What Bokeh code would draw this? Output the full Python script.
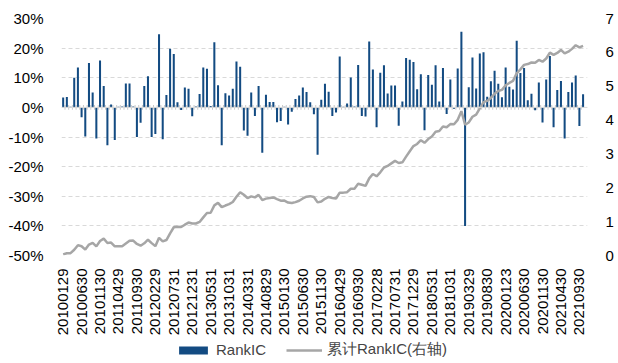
import numpy as np
from bokeh.plotting import figure
from bokeh.layouts import column
from bokeh.models import (Range1d, LinearAxis, FixedTicker, Legend, LegendItem,
                          ColumnDataSource, Span)
from bokeh.embed import file_html
from bokeh.resources import INLINE

# ---------------- data ----------------
tick_labels = ["20100129", "20100630", "20101130", "20110429", "20110930", "20120229",
               "20120731", "20121231", "20130531", "20131031", "20140331", "20140829",
               "20150130", "20150630", "20151130", "20160429", "20160930", "20170228",
               "20170731", "20171229", "20180531", "20181031", "20190329", "20190830",
               "20200123", "20200630", "20201130", "20210430", "20210930"]

# monthly RankIC, in percent
rank_ic = [3.3, 3.5, 0.2, 10.0, 13.5, -3.3, -9.8, 15.0, 5.0, -10.5,
           15.8, 7.2, -12.8, 1.0, -11.0, 0.2, 0.3, 8.1, 8.1, 0.3,
           -10.0, -5.2, 7.2, 10.5, -10.0, -9.0, 24.7, -10.8, 4.2, 19.8,
           18.0, 1.7, -0.9, 6.7, 6.3, -3.0, 0.3, 4.5, 13.5, 13.0,
           0.5, 22.0, 7.5, -12.8, 4.8, 4.0, 6.3, 15.5, 13.7, -7.8,
           -9.6, 5.0, -2.9, 7.2, -15.3, 4.3, 1.8, 1.8, -5.0, -4.6,
           0.2, -5.8, -1.5, 2.8, 4.0, 6.7, 5.2, 1.7, -2.3, -16.0,
           2.6, 8.0, 5.3, -2.9, -1.7, 17.2, 0.2, 1.3, 10.1, 0.3,
           14.3, -2.9, -3.1, 22.2, 12.8, -6.7, 11.7, 14.2, 4.7, 7.4,
           7.4, -6.2, 2.0, 16.7, 16.1, 15.3, 6.1, 11.2, -7.7, 10.9,
           7.6, 14.2, 2.0, 13.3, -2.2, 9.4, -0.5, 13.1, 25.5, -40.0,
           6.8, 16.8, 6.4, 18.2, 18.6, 3.6, 8.8, 12.4, 8.0, 3.4,
           13.5, 7.0, 6.0, 22.5, 11.6, 13.3, 2.4, 4.6, -1.0, 8.4,
           -5.1, 9.4, 17.3, -6.7, 5.9, 8.9, -10.5, 5.2, 8.4, 10.8,
           -6.3, 4.4]

# cumulative RankIC (right axis)
cum_rank_ic = [0.033, 0.068, 0.070, 0.170, 0.305, 0.272, 0.174, 0.324, 0.374, 0.269,
               0.427, 0.499, 0.371, 0.381, 0.271, 0.273, 0.276, 0.357, 0.438, 0.441,
               0.341, 0.289, 0.361, 0.466, 0.366, 0.276, 0.523, 0.415, 0.457, 0.655,
               0.835, 0.852, 0.843, 0.910, 0.973, 0.943, 0.946, 0.991, 1.126, 1.256,
               1.261, 1.481, 1.556, 1.428, 1.476, 1.516, 1.579, 1.734, 1.871, 1.793,
               1.697, 1.747, 1.718, 1.790, 1.637, 1.680, 1.698, 1.716, 1.666, 1.620,
               1.622, 1.564, 1.549, 1.577, 1.617, 1.684, 1.736, 1.753, 1.730, 1.570,
               1.596, 1.676, 1.729, 1.700, 1.683, 1.855, 1.857, 1.870, 1.971, 1.974,
               2.117, 2.088, 2.057, 2.279, 2.407, 2.340, 2.457, 2.599, 2.646, 2.720,
               2.794, 2.732, 2.752, 2.919, 3.080, 3.233, 3.294, 3.406, 3.329, 3.438,
               3.514, 3.656, 3.676, 3.809, 3.787, 3.881, 3.876, 4.007, 4.262, 3.862,
               3.930, 4.098, 4.162, 4.344, 4.530, 4.566, 4.654, 4.778, 4.858, 4.892,
               5.027, 5.097, 5.157, 5.382, 5.498, 5.631, 5.655, 5.701, 5.691, 5.775,
               5.724, 5.818, 5.991, 5.924, 5.983, 6.072, 5.967, 6.019, 6.103, 6.211,
               6.148, 6.192]

left_ticks = [-50, -40, -30, -20, -10, 0, 10, 20, 30]
right_ticks = [0, 1, 2, 3, 4, 5, 6, 7]
legend_labels = ["RankIC", "累计RankIC(右轴)"]

# ---------------- styling ----------------
BLUE = "#134B82"
GREY = "#A6A6A6"
FONT = "Liberation Sans"
FS = "15px"

n = len(rank_ic)
idx = list(range(n))
src = ColumnDataSource(dict(x=idx, v=rank_ic, c=cum_rank_ic))

p = figure(frame_width=526, frame_height=237,
           x_range=Range1d(-0.45, 142.2), y_range=Range1d(-50, 30),
           output_backend="svg", toolbar_location=None,
           min_border_left=61, min_border_right=20, min_border_top=18,
           min_border_bottom=85)
p.outline_line_color = None
p.background_fill_color = "white"
p.border_fill_color = "white"

p.extra_y_ranges = {"cum": Range1d(0, 7)}

# gridlines
p.xgrid.visible = False
p.ygrid.ticker = FixedTicker(ticks=left_ticks)
p.ygrid.grid_line_color = "#D9D9D9"
p.ygrid.grid_line_dash = "4 3"
p.ygrid.grid_line_width = 1

# zero line with category tick marks
p.add_layout(Span(location=0, dimension="width", line_color="#D9D9D9", line_width=1))
bounds = [i + 0.5 for i in idx[:-1]]
p.segment(x0=bounds, x1=bounds, y0=[-0.8] * len(bounds), y1=[0.8] * len(bounds),
          line_color="#C8C8C8", line_width=1)

bars = p.vbar(x="x", top="v", bottom=0, width=0.55, source=src,
              fill_color=BLUE, line_color=None)
line = p.line(x="x", y="c", source=src, y_range_name="cum",
              line_color=GREY, line_width=2.5)

# left axis
ya = p.yaxis[0]
ya.ticker = FixedTicker(ticks=left_ticks)
ya.major_label_overrides = {t: f"{t}%" for t in left_ticks}
ya.axis_line_color = None
ya.major_tick_line_color = None
ya.minor_tick_line_color = None
ya.major_label_text_font = FONT
ya.major_label_text_font_size = FS
ya.major_label_text_color = "black"
ya.major_label_standoff = 12

# right axis
ra = LinearAxis(y_range_name="cum", ticker=FixedTicker(ticks=right_ticks))
ra.axis_line_color = None
ra.major_tick_line_color = None
ra.minor_tick_line_color = None
ra.major_label_text_font = FONT
ra.major_label_text_font_size = FS
ra.major_label_text_color = "black"
ra.major_label_standoff = 12
p.add_layout(ra, "right")

# bottom axis
xa = p.xaxis[0]
tick_pos = [5 * k for k in range(len(tick_labels))]
xa.ticker = FixedTicker(ticks=tick_pos)
xa.major_label_overrides = {t: lab for t, lab in zip(tick_pos, tick_labels)}
xa.major_label_orientation = np.pi / 2
xa.axis_line_color = None
xa.major_tick_line_color = None
xa.minor_tick_line_color = None
xa.major_label_text_font = FONT
xa.major_label_text_font_size = FS
xa.major_label_text_color = "black"
xa.major_label_standoff = 7

# ---------------- legend strip below the chart ----------------
pl = figure(frame_width=526, frame_height=20,
            x_range=Range1d(0, 1), y_range=Range1d(0, 1),
            output_backend="svg", toolbar_location=None,
            min_border_left=61, min_border_right=20, min_border_top=0,
            min_border_bottom=0)
pl.axis.visible = False
pl.grid.visible = False
pl.outline_line_color = None
pl.border_fill_color = "white"
# legend-only proxies (NaN data, nothing drawn in the strip itself)
nan = [float("nan")]
lb = pl.vbar(x=nan, top=nan, width=0.5, fill_color=BLUE, line_color=None)
ll = pl.line(x=nan, y=nan, line_color=GREY, line_width=2.5)

legend = Legend(items=[LegendItem(label=legend_labels[0], renderers=[lb]),
                       LegendItem(label=legend_labels[1], renderers=[ll])],
                orientation="horizontal", location=(114, 1),
                label_text_font=FONT, label_text_font_size=FS,
                glyph_width=36, glyph_height=10, label_height=16,
                label_standoff=5, spacing=20, padding=0, margin=0,
                border_line_color=None, background_fill_alpha=0)
pl.add_layout(legend, "center")

layout = column(p, pl, spacing=0)
open("out.html", "w").write(file_html(layout, INLINE))
